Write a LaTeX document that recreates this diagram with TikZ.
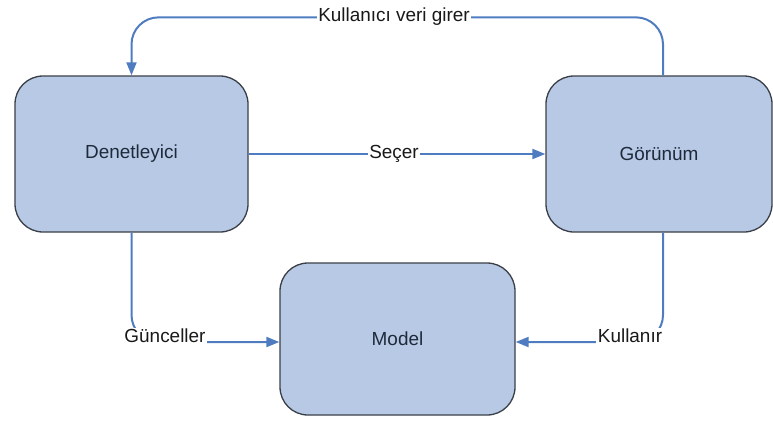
\documentclass[tikz,border=0pt]{standalone}
\usepackage{fontspec}
\setmainfont{Liberation Sans}
\usetikzlibrary{arrows.meta}
\definecolor{boxfill}{HTML}{B7C9E5}
\definecolor{boxline}{HTML}{3A3F47}
\definecolor{boxtext}{HTML}{1E2A3A}
\definecolor{linkblue}{HTML}{4F7CC0}
\begin{document}
\begin{tikzpicture}[x=1bp,y=-1bp,
  block/.style={draw=boxline, line width=1.3bp, fill=boxfill, rounded corners=28bp,
    minimum width=#1, minimum height=156bp, inner sep=0pt,
    font=\fontsize{19}{22}\selectfont, text=boxtext},
  link/.style={draw=linkblue, line width=2bp, rounded corners=27bp,
    -{Triangle[length=13bp,width=10bp]}},
  tag/.style={fill=white, inner sep=1.5bp, text=black!90,
    font=\fontsize{19}{22}\selectfont}]
\useasboundingbox (0,0) rectangle (773,423);

% the three components
\node[block=233bp] (den) at (131.5,154) {Denetleyici};
\node[block=226bp] (gor) at (659,154) {Görünüm};
\node[block=235bp, minimum height=152bp] (mod) at (397.5,339) {Model};

% connectors
\draw[link] ([xshift=4bp]gor.north) -- ++(0,-58) -| (den.north);
\draw[link] (den.east) -- (gor.west);
\draw[link] (den.south) |- ([yshift=-3bp]mod.west);
\draw[link] ([xshift=4bp]gor.south) |- ([yshift=-3bp]mod.east);

% connector labels
\node[tag] (l1) at (394,17) {Kullanıcı veri girer};
\node[tag] (l2) at (394,154) {Seçer};
\node[tag] (l3) at (165,336) {Günceller};
\node[tag] (l4) at (630,336) {Kullanır};
\end{tikzpicture}
\end{document}
